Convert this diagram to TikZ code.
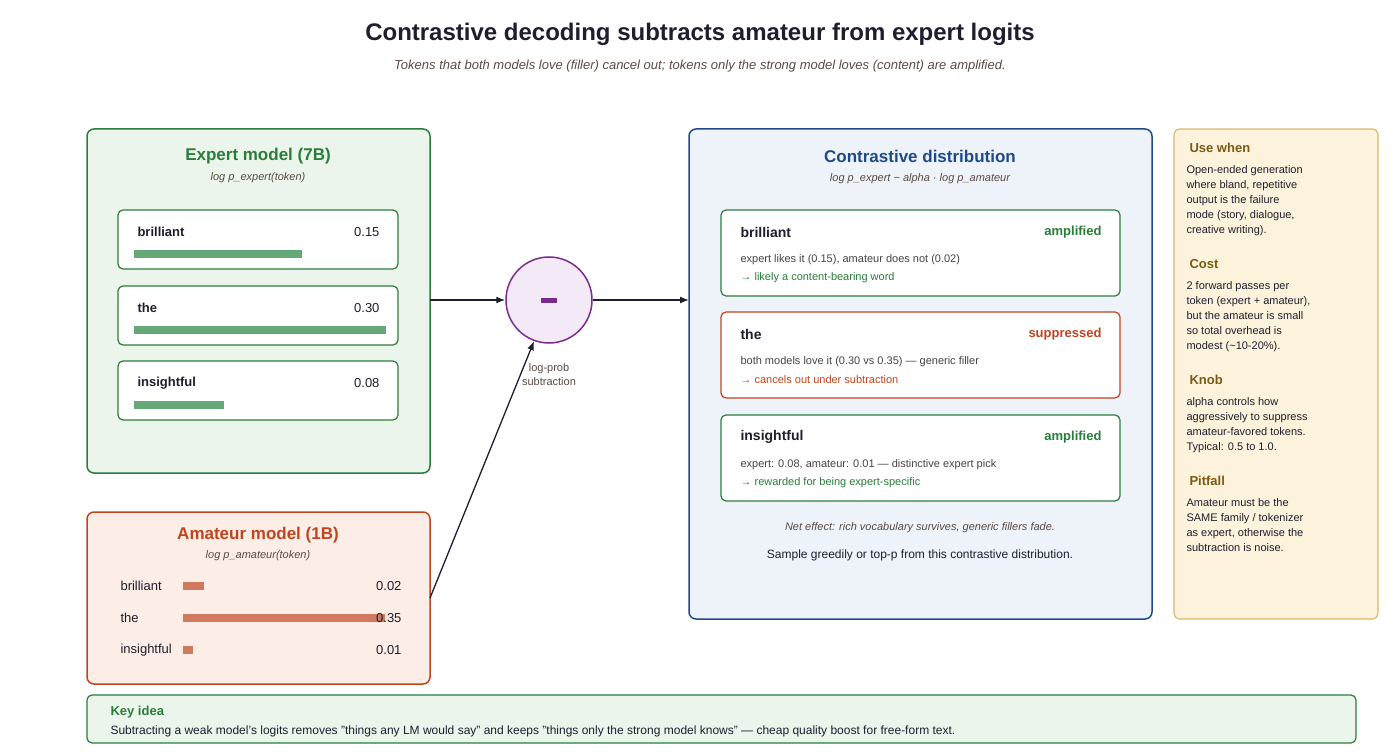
\documentclass[tikz,border=0pt]{standalone}
\usepackage{fontspec}
\setmainfont{Liberation Sans}
\usetikzlibrary{arrows.meta}
\definecolor{gS}{HTML}{2A7D3A}\definecolor{gF}{HTML}{EBF5EC}\definecolor{gB}{HTML}{66A877}
\definecolor{rS}{HTML}{C0441C}\definecolor{rF}{HTML}{FCEDE6}\definecolor{rB}{HTML}{CF7A5E}
\definecolor{bS}{HTML}{1F4A8A}\definecolor{bF}{HTML}{EEF3FA}
\definecolor{pS}{HTML}{7B2D8E}\definecolor{pF}{HTML}{F3E9F7}
\definecolor{yS}{HTML}{DDB866}\definecolor{yF}{HTML}{FDF3DC}\definecolor{yT}{HTML}{7A5A14}
\definecolor{ink}{HTML}{1E1E2E}\definecolor{mut}{HTML}{5A4A42}\definecolor{gry}{HTML}{444444}
\begin{document}
\begin{tikzpicture}[x=1pt,y=-1pt,
 panel/.style={rounded corners=7pt,line width=1.5pt},
 card/.style={rounded corners=5pt,line width=1.2pt,fill=white},
 tt/.style={font=\bfseries\fontsize{17}{20}\selectfont},
 sub/.style={font=\itshape\fontsize{11}{13}\selectfont,text=mut},
 tok/.style={font=\bfseries\fontsize{13}{15}\selectfont,text=ink,anchor=west},
 val/.style={font=\fontsize{13}{15}\selectfont,text=ink,anchor=east},
 sm/.style={font=\fontsize{11}{13}\selectfont,anchor=west},
 side/.style={font=\fontsize{11}{15}\selectfont,text=ink,anchor=north west,align=left},
 sideh/.style={font=\bfseries\fontsize{13}{15}\selectfont,text=yT,anchor=west},
 arr/.style={-{Latex[length=9pt,width=7pt]},line width=1.3pt,draw=ink}]
\useasboundingbox (0,0) rectangle (1400,754);
\node[font=\bfseries\fontsize{24}{28}\selectfont,text=ink] (title) at (700,34) {Contrastive decoding subtracts amateur from expert logits};
\node[font=\itshape\fontsize{13}{15}\selectfont,text=mut] (subt) at (700,66) {Tokens that both models love (filler) cancel out; tokens only the strong model loves (content) are amplified.};
% expert
\draw[panel,draw=gS,fill=gF] (87,129) rectangle (430,473);
\node (expert) at (258,300) {};
\node[tt,text=gS] (et) at (258,156) {Expert model (7B)};
\node[sub] (es) at (258,178) {log p\_expert(token)};
\foreach \n/\y/\t/\v/\w in {e1/210/brilliant/0.15/302, e2/286/the/0.30/386, e3/361/insightful/0.08/224}{
 \draw[card,draw=gS] (118,\y) rectangle (398,\y+59);
 \node[tok] (\n t) at (134,\y+22) {\t};
 \node[val] (\n v) at (383,\y+22) {\v};
 \fill[gB] (134,\y+40) rectangle (\w,\y+48);
}
% amateur
\draw[panel,draw=rS,fill=rF] (87,512) rectangle (430,684);
\node[tt,text=rS] (at) at (258,535) {Amateur model (1B)};
\node[sub] (as) at (258,556) {log p\_amateur(token)};
\foreach \n/\y/\t/\v/\w in {a1/586/brilliant/0.02/204, a2/618/the/0.35/385, a3/650/insightful/0.01/193}{
 \node[font=\fontsize{13}{15}\selectfont,text=ink,anchor=west] (\n t) at (117,\y) {\t};
 \fill[rB] (183,\y-4) rectangle (\w,\y+4);
 \node[val] (\n v) at (405,\y) {\v};
}
\coordinate (aout) at (430,598);
\coordinate (eout) at (430,300);
% circle
\node[circle,draw=pS,fill=pF,line width=1.5pt,minimum size=86pt] (minus) at (549,300) {};
\fill[pS] (541,298) rectangle (557,302.5);
\node[font=\fontsize{11}{14}\selectfont,text=mut,align=center] (lp) at (549,375) {log-prob\\subtraction};
% contrastive
\draw[panel,draw=bS,fill=bF] (689,129) rectangle (1152,619);
\coordinate (cin) at (689,300);
\node[tt,text=bS] (ct) at (920,156) {Contrastive distribution};
\node[sub] (cs) at (920,179) {log p\_expert − alpha · log p\_amateur};
\foreach \n/\y/\t/\tag/\c/\la/\lb in {
 c1/210/brilliant/amplified/gS/{expert likes it (0.15), amateur does not (0.02)}/{→ likely a content-bearing word},
 c2/312/the/suppressed/rS/{both models love it (0.30 vs 0.35) — generic filler}/{→ cancels out under subtraction},
 c3/415/insightful/amplified/gS/{expert: 0.08, amateur: 0.01 — distinctive expert pick}/{→ rewarded for being expert-specific}}{
 \draw[card,draw=\c] (721,\y) rectangle (1120,\y+86);
 \node[tok,font=\bfseries\fontsize{14}{16}\selectfont] (\n t) at (737,\y+22) {\t};
 \node[val,font=\bfseries\fontsize{13}{15}\selectfont,text=\c] (\n g) at (1105,\y+22) {\tag};
 \node[sm,text=gry] (\n a) at (737,\y+50) {\la};
 \node[sm,text=\c] (\n b) at (737,\y+68) {\lb};
}
\node[sub] (net) at (920,528) {Net effect: rich vocabulary survives, generic fillers fade.};
\node[font=\fontsize{12}{14}\selectfont,text=ink] (samp) at (920,555) {Sample greedily or top-p from this contrastive distribution.};
% side
\draw[rounded corners=6pt,line width=1.2pt,draw=yS,fill=yF] (1174,129) rectangle (1378,619);
\node[sideh] (h1) at (1186,148) {Use when};
\node[side] (b1) at (1183,162) {Open-ended generation\\where bland, repetitive\\output is the failure\\mode (story, dialogue,\\creative writing).};
\node[sideh] (h2) at (1186,264) {Cost};
\node[side] (b2) at (1183,278) {2 forward passes per\\token (expert + amateur),\\but the amateur is small\\so total overhead is\\modest (\textasciitilde10-20\%).};
\node[sideh] (h3) at (1186,380) {Knob};
\node[side] (b3) at (1183,394) {alpha controls how\\aggressively to suppress\\amateur-favored tokens.\\Typical: 0.5 to 1.0.};
\node[sideh] (h4) at (1186,481) {Pitfall};
\node[side] (b4) at (1183,495) {Amateur must be the\\SAME family / tokenizer\\as expert, otherwise the\\subtraction is noise.};
% key idea
\draw[rounded corners=5pt,line width=1.2pt,draw=gS,fill=gF] (87,695) rectangle (1356,743);
\node[font=\bfseries\fontsize{13}{15}\selectfont,text=gS,anchor=west] (ki) at (107,712) {Key idea};
\node[font=\fontsize{12}{14}\selectfont,text=ink,anchor=west] (kt) at (107,731) {Subtracting a weak model's logits removes "things any LM would say" and keeps "things only the strong model knows" — cheap quality boost for free-form text.};
% arrows
\draw[arr] (eout) -- (minus.west);
\draw[arr] (minus.east) -- (cin);
\draw[arr] (aout) -- (minus.250);
\end{tikzpicture}
\end{document}
